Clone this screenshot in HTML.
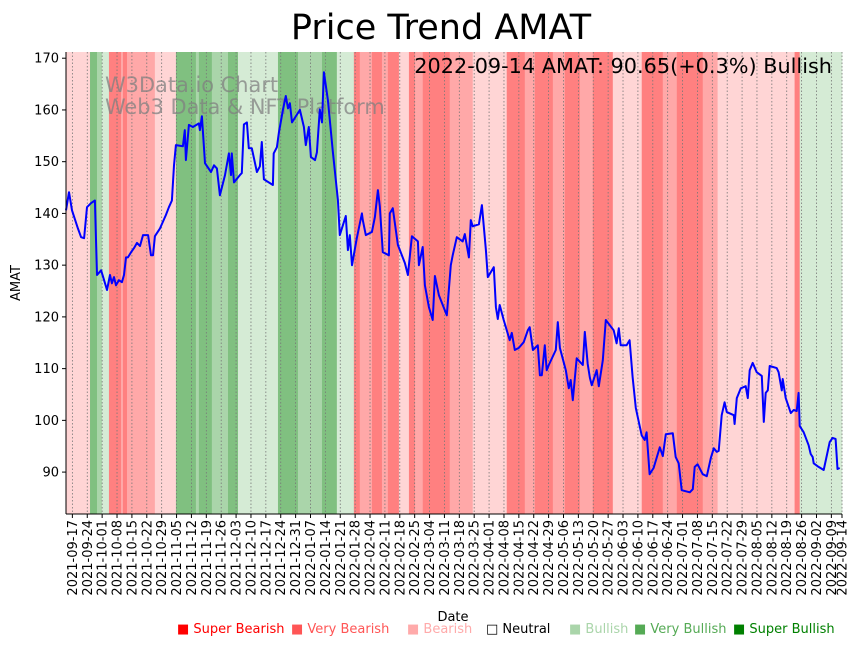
<!DOCTYPE html>
<html><head><meta charset="utf-8"><style>
body{margin:0;background:#fff;width:860px;height:646px;overflow:hidden;font-family:"Liberation Sans","DejaVu Sans",sans-serif}
</style></head><body>
<svg id="chart" width="860" height="646" xmlns="http://www.w3.org/2000/svg" font-family="DejaVu Sans, Liberation Sans, sans-serif">
<text x="441" y="39" font-size="35" text-anchor="middle">Price Trend AMAT</text>
<g id="bands"></g>
<g id="grid"></g>
<g fill="#808080" fill-opacity="0.75" font-size="20.9">
<text x="105" y="92">W3Data.io Chart</text><text x="105" y="114">Web3 Data &amp; NFT Platform</text></g>
<path id="line" fill="none" stroke="#0000ff" stroke-width="2" stroke-linejoin="round"/>
<text x="832" y="73" font-size="20.8" text-anchor="end">2022-09-14 AMAT: 90.65(+0.3%) Bullish</text>
<g id="axes"></g>
<text transform="translate(20,283) rotate(-90)" font-size="13" text-anchor="middle">AMAT</text>
<text x="453" y="621" font-size="13" text-anchor="middle">Date</text>
<g font-size="13">
<text x="177" y="633" fill="#ff0000">■ Super Bearish</text>
<text x="291" y="633" fill="#ff5555">■ Very Bearish</text>
<text x="407" y="633" fill="#ffaaaa">■ Bearish</text>
<text x="486" y="633" fill="#000">□ Neutral</text>
<text x="569" y="633" fill="#aad5aa">■ Bullish</text>
<text x="634" y="633" fill="#55aa55">■ Very Bullish</text>
<text x="733" y="633" fill="#008000">■ Super Bullish</text>
</g>
</svg>
<script>
const days=[0,1.4,2.8,5.6,7.1,8.5,9.9,11.8,13.6,14.6,16.5,17.9,19.3,20.7,21.6,22.6,23.5,24.9,26.3,27.3,28.2,29.1,30.6,32,33.4,34.8,36.2,38.6,40,40.9,41.8,44.2,47,48.4,49.8,50.8,51.7,55,55.9,56.4,57.8,59.7,62.5,63,63.9,65.4,68.2,69.6,71,72.4,74.8,76.6,77.6,78,79,81.8,82.7,83.7,85.1,86,87.4,89.8,91.2,92.1,93.1,97.3,97.7,99.2,100.1,102,103.4,104.4,105.3,106.3,110,111.9,112.8,114.2,115.2,117.1,118,119.4,120.4,121.3,123.2,125.5,127.9,128.8,131.6,132.6,133.5,134.5,136.8,139.2,139.6,141,143.9,145.3,146.7,147.6,149,151.9,152.3,153.7,156.1,159.4,160.8,162.7,165.5,166,167.8,168.8,170.7,172.5,173.5,175.4,179.1,181,181.9,183.8,186.6,187.6,189.5,190.4,191.3,194.2,195.6,197.5,198.4,201.2,202.2,203.1,204,205.9,208.7,209.7,211.1,213,215.3,217.2,218.1,219.6,221.9,222.9,223.8,225.2,226.1,227.1,230.4,231.3,232.3,235.1,236.5,237.4,238.4,240.2,243.1,244,245.4,246.4,247.3,249.6,250.6,252.5,253.9,257.6,259,260,260.9,263.7,265.1,266.5,268,270.8,272.2,273.1,274.5,276.4,279.3,280.7,282.1,285.4,286.8,288.2,289.6,293.4,294.8,295.7,297.1,299.5,301.4,303.3,304.7,306.1,307,308.4,309.8,310.8,314.1,314.5,315.5,317.4,319.7,320.7,321.6,323,324.9,327.3,328.2,329.1,330.1,331,334.3,335.2,336.7,337.1,338.5,340.9,342.3,343.7,344.6,345.1,347,349.3,350.3,351.2,351.7,354,356.4,359.2,360.6,362,362.9,363.9];
const prices=[140.6,144.1,140.6,137.1,135.4,135.2,141.2,142.0,142.5,128.1,129.0,127.1,125.2,128.1,126.5,127.7,126.1,127.1,126.7,128.1,131.5,131.5,132.5,133.3,134.3,133.7,135.8,135.8,131.9,131.9,135.6,137.1,139.7,141.2,142.5,149.3,153.2,153.0,156.1,150.3,157.1,156.7,157.4,156.1,158.8,149.7,148.0,149.3,148.7,143.5,147.4,151.6,147.4,151.6,146.0,147.4,147.8,157.2,157.6,152.6,152.6,148.0,149.1,153.8,146.6,145.5,151.6,152.8,155.5,160.0,162.7,160.3,161.3,157.6,160.0,156.7,153.2,156.7,150.9,150.3,151.8,160.1,157.6,167.3,161.9,152.0,142.6,135.8,139.5,132.9,135.8,130.0,135.2,140.0,138.7,135.8,136.4,139.3,144.5,141.4,132.5,131.9,140.0,141.0,133.9,130.4,128.1,135.6,134.6,130.0,133.5,126.1,121.9,119.4,127.9,124.2,120.3,130.0,131.9,135.4,134.6,136.0,131.5,138.7,137.5,137.9,141.6,132.9,127.7,129.6,121.9,119.6,122.3,119.4,115.5,116.9,113.6,114.0,115.1,117.4,118.0,113.6,114.5,108.7,108.7,114.5,109.7,110.7,113.6,119.0,114.0,109.7,106.2,107.8,103.9,112.0,110.7,117.1,110.9,108.2,106.8,109.7,106.6,111.6,119.4,117.4,114.9,117.8,114.5,114.5,115.5,108.4,102.4,97.1,96.2,97.7,89.6,90.8,94.8,93.1,97.3,97.5,92.9,91.7,86.5,86.1,86.7,91.0,91.5,89.6,89.2,92.7,94.6,93.9,94.1,101.0,103.5,101.6,101.0,99.3,104.3,106.2,106.6,104.3,109.7,111.1,109.3,108.6,99.7,105.3,105.8,110.5,110.1,109.3,105.8,108.0,104.3,101.4,102.0,101.8,105.3,98.9,97.7,95.2,93.5,92.9,91.7,91.0,90.4,95.8,96.6,96.4,90.6,90.8];
const bandStarts=[0,11.3,14.6,16.9,20.2,25.9,26.8,28.7,41.8,51.7,61.1,62.5,68.6,76.2,80.9,99.7,109.1,120.4,127.4,135.4,138.2,143.9,148.6,151.4,156.6,161.3,164.1,167.8,180.5,191.3,207.3,215.8,220.5,229,234.6,241.7,247.8,257.2,270.8,280.7,287.3,299.5,306.5,342.7,345.1];
const bandLevels=[-1,3,2,1,-3,-2,-3,-2,-1,3,2,3,2,3,1,3,2,3,1,-3,-2,-3,-2,-3,-1,-3,-2,-3,-2,-1,-3,-2,-3,-2,-3,-2,-3,-1,-3,-2,-3,-2,-1,-3,1];
const yTicks=[90,100,110,120,130,140,150,160,170];
const totalDays=365;
const X0=66,X1=842,Y0=52,Y1=514,VMIN=81.9,VMAX=171.2;
const xs=d=>X0+(d/totalDays)*(X1-X0);
const ys=v=>Y1-(v-VMIN)/(VMAX-VMIN)*(Y1-Y0);
const NS='http://www.w3.org/2000/svg';
function mk(tag,attrs,parent){const e=document.createElementNS(NS,tag);for(const k in attrs)e.setAttribute(k,attrs[k]);parent.appendChild(e);return e;}
const colors={'-3':'#ff8080','-2':'#ffa8a8','-1':'#ffd5d5','1':'#d5ebd5','2':'#aad5aa','3':'#80c080'};
const bandsG=document.getElementById('bands');
for(let i=0;i<bandStarts.length;i++){
  const s=bandStarts[i],e=i+1<bandStarts.length?bandStarts[i+1]:totalDays;
  const r=mk('rect',{x:xs(s),y:Y0,width:xs(e)-xs(s)+0.3,height:Y1-Y0,fill:colors[bandLevels[i]]},bandsG);
  
  
}
const start=new Date(Date.UTC(2021,8,14));
const tickDays=[];for(let d=3;d<totalDays-2;d+=7)tickDays.push(d);tickDays.push(totalDays);
const gridG=document.getElementById('grid'),axG=document.getElementById('axes');
const fmt=d=>{const t=new Date(start.getTime()+d*86400000);return t.toISOString().slice(0,10);};
tickDays.forEach(d=>{
  const x=xs(d);
  const g=mk('line',{x1:x,x2:x,y1:Y0,y2:Y1,stroke:'#777','stroke-width':0.8,'stroke-dasharray':'1.5,2'},gridG);
  
  
  mk('line',{x1:x,x2:x,y1:Y1,y2:Y1+4,stroke:'#000'},axG);
  const t=mk('text',{transform:`translate(${x+4.5},${Y1+6}) rotate(-90)`,'font-size':13,'text-anchor':'end'},axG);
  t.textContent=fmt(d);
  
  
});
yTicks.forEach(v=>{
  const y=ys(v);
  mk('line',{x1:X0-4,x2:X0,y1:y,y2:y,stroke:'#000'},axG);
  const t=mk('text',{x:X0-7,y:y+4.5,'font-size':13,'text-anchor':'end'},axG);
  t.textContent=v;
  
  
});
mk('line',{x1:X0,x2:X0,y1:Y0,y2:Y1,stroke:'#000'},axG);
mk('line',{x1:X0,x2:X1,y1:Y1,y2:Y1,stroke:'#000'},axG);
document.getElementById('line').setAttribute('d',days.map((d,i)=>(i?'L':'M')+xs(d).toFixed(1)+','+ys(prices[i]).toFixed(1)).join(''));
</script>
</body></html>
